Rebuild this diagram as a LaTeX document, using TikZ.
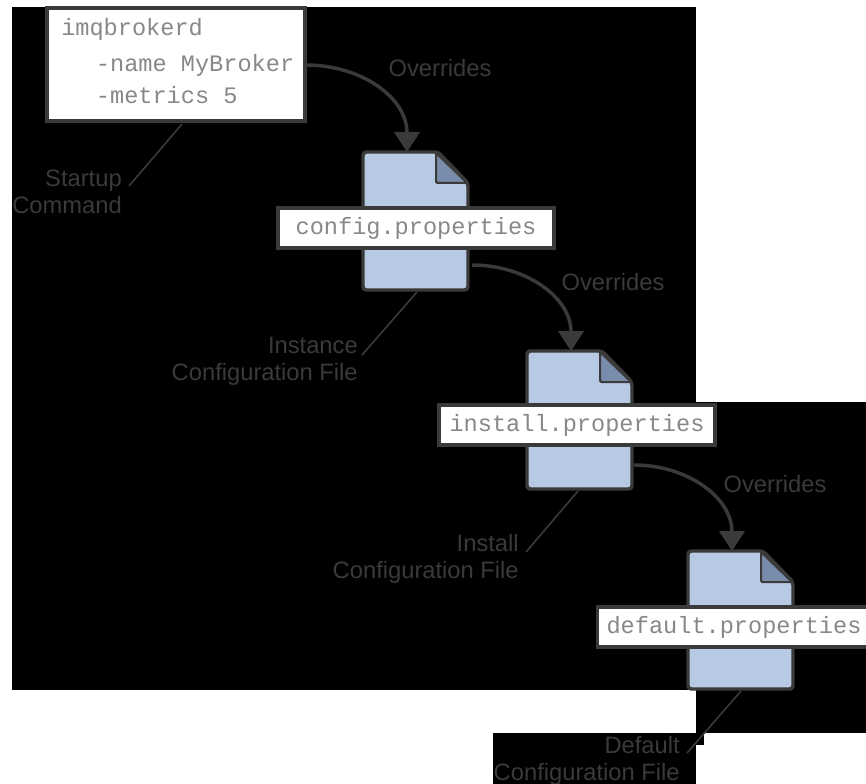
\documentclass[tikz,border=0pt]{standalone}
\usepackage{fontspec}
\setmainfont{Liberation Sans}
\setmonofont{Liberation Mono}
\usetikzlibrary{calc,positioning,arrows.meta}
\definecolor{linegray}{HTML}{3A3A3A}
\definecolor{pagefill}{HTML}{B8C9E3}
\definecolor{foldfill}{HTML}{7A8CAC}
\definecolor{codegray}{HTML}{888888}
\tikzset{
	code/.style={text=codegray,inner sep=0pt,font=\ttfamily\fontsize{17.7}{17.7}\selectfont},
	filebox/.style={code,draw=linegray,line width=2.6pt,fill=white,minimum height=30pt},
	caption/.style={text=linegray,align=right,inner sep=0pt,
		font=\fontsize{17.8}{20}\selectfont},
	overrides/.style={text=linegray,inner sep=0pt,font=\fontsize{17.8}{20}\selectfont},
	flow/.style={draw=linegray,line width=2.6pt,-{Triangle[length=15pt,width=19pt]}},
	leader/.style={draw=linegray,line width=1.2pt},
}
% one sheet with its folded corner, origin at the top left
\newcommand{\docsheet}[2]{
	\draw[linegray,line width=2.6pt,fill=pagefill,rounded corners=2.5pt]
		(#1,#2) -- ++(75,0) -- ++(30,31) -- ++(0,107) -- ++(-105,0) -- cycle;
	\draw[linegray,line width=1.5pt,fill=foldfill,rounded corners=1pt]
		(#1+73,#2+1) -- ++(31,30) -- ++(-31,0) -- cycle;
	\coordinate (s#1) at (#1+44,#2);
}
\begin{document}
\begin{tikzpicture}[x=0.75pt,y=-0.75pt]
	\useasboundingbox (0,0) rectangle (866,784);
	\fill (12,7) rectangle (696,690);
	\fill (696,402) rectangle (866,733);
	\fill (493,733) rectangle (696,784);
	\fill (696,733) rectangle (704,745);

	\node(cmd) at (176,64.5) [draw=linegray,line width=2.6pt,fill=white,minimum width=193.5pt,minimum height=84.5pt] {};
	\node(line1) [code,anchor=base west] at (61,36) {imqbrokerd};
	\node(line2) [code,below=27pt of line1.base west,anchor=base west,xshift=26pt] {-name MyBroker};
	\node(line3) [code,below=24pt of line2.base west,anchor=base west] {-metrics 5};

	\docsheet{363}{152}
	\docsheet{527}{351}
	\docsheet{688}{551}

	\node(config) at (416,228) [filebox,minimum width=207pt] {config.properties};
	\node(install) at (577,425) [filebox,minimum width=207pt] {install.properties};
	\node(default) at (734,627) [filebox,minimum width=205pt] {default.properties};

	\coordinate (outa) at (306,65);
	\coordinate (outb) at (472,265);
	\coordinate (outc) at (634,465);
	\draw[flow] (outa) to[out=0,in=90,looseness=1.05] (s363);
	\draw[flow] (outb) to[out=0,in=90,looseness=1.05] (s527);
	\draw[flow] (outc) to[out=0,in=90,looseness=1.05] (s688);

	\node(over1) at (440,68) [overrides] {Overrides};
	\node(over2) at (613,282) [overrides] {Overrides};
	\node(over3) at (775,484) [overrides] {Overrides};

	\node(start) [caption,anchor=north east] at (122,170) {Startup\\Command};
	\node(inst) [caption,anchor=north east] at (358,337) {Instance\\Configuration File};
	\node(ins) [caption,anchor=north east] at (519,534) {Install\\Configuration File};
	\node(def) [caption,anchor=north east] at (680,736) {Default\\Configuration File};

	\coordinate (enda) at (182,124);
	\coordinate (enda2) at (129,186);
	\coordinate (endb) at (417,292);
	\coordinate (endb2) at (362,355);
	\coordinate (endc) at (578,491);
	\coordinate (endc2) at (526,552);
	\coordinate (endd) at (741,691);
	\coordinate (endd2) at (687,753);
	\draw[leader] (enda) -- (enda2);
	\draw[leader] (endb) -- (endb2);
	\draw[leader] (endc) -- (endc2);
	\draw[leader] (endd) -- (endd2);
\end{tikzpicture}
\end{document}
